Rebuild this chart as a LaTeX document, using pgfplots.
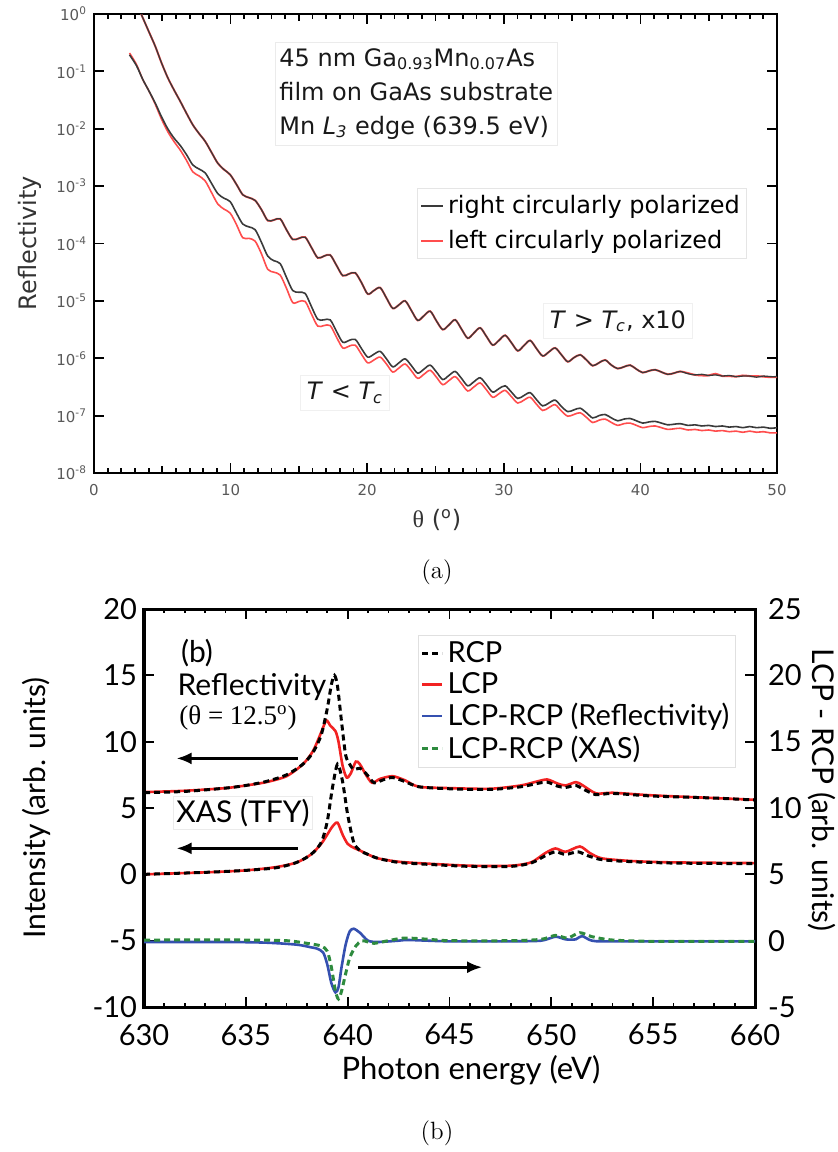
\documentclass[border=0pt]{standalone}
\usepackage{pgfplots}
\pgfplotsset{compat=1.18}
\usepackage{pgfplotstable}
\usepackage{fontspec}
\usetikzlibrary{arrows.meta}
\newfontfamily\dejavu{DejaVu Sans}
\newfontfamily\lato{Lato}
\newfontfamily\tnr{Liberation Serif}
\definecolor{rcpgray}{HTML}{3A3A3A}
\definecolor{lcpred}{HTML}{FF4D4D}
\definecolor{bred}{HTML}{F22222}
\definecolor{bblue}{HTML}{3550B0}
\definecolor{bgreen}{HTML}{2E8B3E}

% ---------- panel (a): log10 of reflectivity ----------
\pgfplotstableread{
th lg
3.45 0.00
4.02 -0.31
4.48 -0.56
4.94 -0.85
5.40 -1.11
5.85 -1.32
6.31 -1.52
6.77 -1.73
7.23 -1.93
7.68 -2.08
8.14 -2.22
8.60 -2.41
9.06 -2.60
9.51 -2.71
9.97 -2.80
10.43 -2.97
10.89 -3.15
11.34 -3.20
11.80 -3.25
12.26 -3.41
12.72 -3.60
13.17 -3.59
13.63 -3.57
14.09 -3.76
14.55 -3.93
15.00 -3.91
15.46 -3.89
15.92 -4.07
16.38 -4.25
16.83 -4.22
17.29 -4.20
17.75 -4.38
18.21 -4.56
18.66 -4.53
19.12 -4.51
19.58 -4.68
20.04 -4.88
20.49 -4.82
20.95 -4.77
21.41 -4.95
21.87 -5.13
22.32 -5.07
22.78 -5.00
23.24 -5.17
23.70 -5.34
24.15 -5.26
24.61 -5.18
25.07 -5.35
25.53 -5.50
25.98 -5.42
26.44 -5.33
26.90 -5.49
27.36 -5.65
27.81 -5.56
28.27 -5.47
28.73 -5.62
29.19 -5.77
29.64 -5.69
30.10 -5.60
30.56 -5.73
31.02 -5.87
31.47 -5.78
31.93 -5.69
32.39 -5.83
32.85 -5.96
33.30 -5.89
33.76 -5.82
34.22 -5.94
34.68 -6.06
35.13 -5.99
35.59 -5.94
36.05 -6.03
36.51 -6.13
36.96 -6.08
37.42 -6.03
37.88 -6.12
38.34 -6.18
38.79 -6.15
39.25 -6.12
39.71 -6.19
40.17 -6.25
40.62 -6.22
41.08 -6.20
41.54 -6.24
42.00 -6.28
42.45 -6.26
42.91 -6.23
43.50 -6.27
44.00 -6.29
44.50 -6.28
45.00 -6.30
45.50 -6.29
46.00 -6.31
46.50 -6.30
47.00 -6.32
47.50 -6.31
48.00 -6.31
48.50 -6.33
49.00 -6.31
49.50 -6.32
50.00 -6.32
}\UpB

\pgfplotstableread{
th lg
3.45 0.00
4.02 -0.31
4.48 -0.56
4.94 -0.85
5.40 -1.11
5.85 -1.32
6.31 -1.52
6.77 -1.73
7.23 -1.93
7.68 -2.08
8.14 -2.22
8.60 -2.41
9.06 -2.60
9.51 -2.71
9.97 -2.80
10.43 -2.97
10.89 -3.15
11.34 -3.20
11.80 -3.25
12.26 -3.41
12.72 -3.60
13.17 -3.59
13.63 -3.57
14.09 -3.76
14.55 -3.93
15.00 -3.91
15.46 -3.89
15.92 -4.07
16.38 -4.25
16.83 -4.22
17.29 -4.20
17.75 -4.38
18.21 -4.56
18.66 -4.53
19.12 -4.51
19.58 -4.68
20.04 -4.88
20.49 -4.82
20.95 -4.77
21.41 -4.95
21.87 -5.13
22.32 -5.07
22.78 -5.00
23.24 -5.17
23.70 -5.34
24.15 -5.26
24.61 -5.18
25.07 -5.35
25.53 -5.50
25.98 -5.42
26.44 -5.33
26.90 -5.49
27.36 -5.65
27.81 -5.56
28.27 -5.47
28.73 -5.62
29.19 -5.77
29.64 -5.69
30.10 -5.60
30.56 -5.73
31.02 -5.87
31.47 -5.78
31.93 -5.69
32.39 -5.83
32.85 -5.96
33.30 -5.89
33.76 -5.82
34.22 -5.94
34.68 -6.06
35.13 -5.99
35.59 -5.94
36.05 -6.03
36.51 -6.13
36.96 -6.08
37.42 -6.03
37.88 -6.12
38.34 -6.18
38.79 -6.15
39.25 -6.12
39.71 -6.19
40.17 -6.25
40.62 -6.22
41.08 -6.20
41.54 -6.24
42.00 -6.28
42.45 -6.26
42.91 -6.23
43.50 -6.26
44.00 -6.29
44.50 -6.30
45.00 -6.30
45.50 -6.27
46.00 -6.31
46.50 -6.31
47.00 -6.32
47.50 -6.30
48.00 -6.31
48.50 -6.31
49.00 -6.32
49.50 -6.33
50.00 -6.33
}\UpR

\pgfplotstableread{
th lg
2.60 -0.71
3.11 -0.90
3.57 -1.14
4.02 -1.34
4.48 -1.55
4.94 -1.79
5.40 -2.00
5.85 -2.16
6.31 -2.29
6.77 -2.45
7.23 -2.63
7.68 -2.70
8.14 -2.77
8.60 -2.95
9.06 -3.13
9.51 -3.21
9.97 -3.27
10.43 -3.47
10.89 -3.66
11.34 -3.71
11.80 -3.76
12.26 -3.98
12.72 -4.22
13.17 -4.30
13.63 -4.35
14.09 -4.59
14.55 -4.82
15.00 -4.85
15.46 -4.87
15.92 -5.10
16.38 -5.32
16.83 -5.33
17.29 -5.33
17.75 -5.53
18.21 -5.72
18.66 -5.69
19.12 -5.67
19.58 -5.83
20.04 -5.98
20.49 -5.93
20.95 -5.88
21.41 -6.01
21.87 -6.15
22.32 -6.08
22.78 -6.01
23.24 -6.13
23.70 -6.26
24.15 -6.19
24.61 -6.12
25.07 -6.24
25.53 -6.37
25.98 -6.30
26.44 -6.23
26.90 -6.35
27.36 -6.48
27.81 -6.41
28.27 -6.34
28.73 -6.46
29.19 -6.59
29.64 -6.53
30.10 -6.48
30.56 -6.59
31.02 -6.70
31.47 -6.65
31.93 -6.60
32.39 -6.72
32.85 -6.83
33.30 -6.78
33.76 -6.73
34.22 -6.84
34.68 -6.93
35.13 -6.90
35.59 -6.87
36.05 -6.95
36.51 -7.04
36.96 -7.00
37.42 -6.98
37.88 -7.04
38.34 -7.09
38.79 -7.06
39.25 -7.05
39.71 -7.09
40.17 -7.13
40.62 -7.11
41.08 -7.10
41.54 -7.13
42.00 -7.16
42.45 -7.15
42.91 -7.14
43.50 -7.17
44.00 -7.16
44.50 -7.18
45.00 -7.17
45.50 -7.19
46.00 -7.18
46.50 -7.20
47.00 -7.19
47.50 -7.21
48.00 -7.19
48.50 -7.21
49.00 -7.20
49.50 -7.22
50.00 -7.21
}\LowB

\pgfplotstableread{
th lg
2.60 -0.68
3.11 -0.88
3.57 -1.14
4.02 -1.34
4.48 -1.57
4.94 -1.83
5.40 -2.05
5.85 -2.22
6.31 -2.37
6.77 -2.55
7.23 -2.75
7.68 -2.82
8.14 -2.91
8.60 -3.11
9.06 -3.31
9.51 -3.40
9.97 -3.47
10.43 -3.67
10.89 -3.90
11.34 -3.91
11.80 -3.96
12.26 -4.18
12.72 -4.45
13.17 -4.50
13.63 -4.55
14.09 -4.78
14.55 -5.03
15.00 -5.01
15.46 -5.01
15.92 -5.23
16.38 -5.44
16.83 -5.43
17.29 -5.43
17.75 -5.63
18.21 -5.82
18.66 -5.79
19.12 -5.77
19.58 -5.93
20.04 -6.08
20.49 -6.03
20.95 -5.98
21.41 -6.10
21.87 -6.24
22.32 -6.17
22.78 -6.10
23.24 -6.22
23.70 -6.35
24.15 -6.28
24.61 -6.21
25.07 -6.33
25.53 -6.46
25.98 -6.39
26.44 -6.32
26.90 -6.44
27.36 -6.57
27.81 -6.50
28.27 -6.43
28.73 -6.55
29.19 -6.68
29.64 -6.62
30.10 -6.56
30.56 -6.67
31.02 -6.78
31.47 -6.73
31.93 -6.68
32.39 -6.80
32.85 -6.91
33.30 -6.86
33.76 -6.81
34.22 -6.92
34.68 -7.01
35.13 -6.98
35.59 -6.95
36.05 -7.03
36.51 -7.12
36.96 -7.08
37.42 -7.06
37.88 -7.12
38.34 -7.17
38.79 -7.14
39.25 -7.13
39.71 -7.17
40.17 -7.21
40.62 -7.19
41.08 -7.18
41.54 -7.21
42.00 -7.24
42.45 -7.23
42.91 -7.22
43.50 -7.25
44.00 -7.24
44.50 -7.26
45.00 -7.25
45.50 -7.27
46.00 -7.26
46.50 -7.28
47.00 -7.27
47.50 -7.29
48.00 -7.27
48.50 -7.29
49.00 -7.28
49.50 -7.30
50.00 -7.30
}\LowR

% ---------- panel (b) ----------
\pgfplotstableread{
e v
630 6.15
632 6.25
634 6.5
635 6.7
636 7.0
637 7.5
637.8 8.3
638.3 9.2
638.7 10.5
639.0 12.5
639.2 14.3
639.35 15.0
639.5 14.2
639.7 11.5
639.9 9.0
640.1 8.3
640.3 7.9
640.6 8.0
640.9 7.6
641.3 6.9
641.7 7.1
642.2 7.3
642.8 7.0
643.5 6.6
645 6.45
647 6.4
648.5 6.6
649.3 6.85
649.8 6.95
650.3 6.65
650.7 6.55
651.2 6.7
651.6 6.4
652.2 6.0
653 6.1
655 5.9
658 5.75
660 5.6
}\ReflRCP

\pgfplotstableread{
e v
630 6.2
632 6.3
634 6.5
635 6.7
636 6.95
637 7.4
637.8 8.3
638.3 9.3
638.7 10.7
638.95 11.6
639.15 11.2
639.4 10.8
639.55 10.0
639.75 8.2
639.95 7.3
640.15 7.6
640.4 8.5
640.6 8.3
640.9 7.5
641.2 6.9
641.6 7.2
642.2 7.4
642.8 7.1
643.5 6.6
645 6.5
647 6.45
648.5 6.7
649.3 7.0
649.8 7.15
650.3 6.85
650.7 6.7
651.2 6.95
651.5 6.75
652.2 6.1
653 6.15
655 5.95
658 5.75
660 5.62
}\ReflLCP

\pgfplotstableread{
e v
630 0.0
633 0.15
635 0.3
636.5 0.5
637.5 0.9
638.2 1.5
638.7 2.4
639.0 4.0
639.25 6.5
639.5 8.3
639.75 7.0
640.0 4.5
640.3 2.4
640.6 1.8
641.0 1.5
641.5 1.2
642.5 0.9
644 0.75
646 0.6
648 0.6
649 0.85
649.7 1.4
650.2 1.7
650.7 1.5
651.3 1.7
651.8 1.4
652.5 1.1
654 0.95
656 0.85
660 0.8
}\XasRCP

\pgfplotstableread{
e v
630 0.0
633 0.15
635 0.3
636.5 0.55
637.5 0.9
638.2 1.5
638.7 2.3
639.0 3.0
639.25 3.6
639.5 3.9
639.75 3.0
640.0 2.3
640.3 2.0
640.6 1.8
641.0 1.5
641.5 1.2
642.5 0.95
644 0.8
646 0.65
648 0.65
649 0.9
649.7 1.6
650.2 1.95
650.7 1.7
651.4 2.1
651.9 1.6
652.5 1.2
654 1.0
656 0.9
660 0.85
}\XasLCP

\pgfplotstableread{
e v
630 -0.1
634 -0.1
636 -0.15
637.5 -0.3
638.2 -0.5
638.5 -0.6
638.8 -0.9
639.0 -1.8
639.2 -3.2
639.4 -3.9
639.55 -3.5
639.7 -2.0
639.9 -0.3
640.1 0.7
640.3 0.9
640.6 0.6
641.0 0.0
641.5 -0.1
642.5 0.0
643 0.05
645 -0.05
648 -0.05
649.5 0.0
650.2 0.3
650.7 0.1
651.2 0.1
651.5 0.35
652 0.0
653 -0.05
660 -0.05
}\DiffRefl

\pgfplotstableread{
e v
630 0.05
635 0.05
637 0.0
638 -0.2
638.7 -0.4
639.0 -0.8
639.2 -2.0
639.4 -3.8
639.55 -4.4
639.7 -3.8
639.9 -2.5
640.1 -1.3
640.4 -0.4
640.7 0.0
641.0 -0.1
641.3 -0.2
642 0.0
642.8 0.2
644 0.1
645 0.0
648 0.0
649.5 0.1
650.2 0.4
650.8 0.2
651.4 0.6
652 0.3
653 0.05
655 -0.05
660 -0.05
}\DiffXas

\begin{document}
\begin{tikzpicture}
\path[use as bounding box] (0,0) rectangle (418.5pt,-576pt);

% ================= panel (a) =================
\begin{axis}[
  at={(47pt,-7pt)}, anchor=north west,
  scale only axis, width=341.5pt, height=229.5pt,
  xmin=0, xmax=50, ymode=log, ymin=1e-8, ymax=1,
  xtick={0,10,...,50}, minor xtick={0,1,...,50},
  extra x ticks={5,15,25,35,45}, extra x tick labels={},
  extra x tick style={major tick length=3.6pt},
  ytick={1e-8,1e-7,1e-6,1e-5,1e-4,1e-3,1e-2,1e-1,1},
  yticklabels={10\textsuperscript{-8},10\textsuperscript{-7},10\textsuperscript{-6},10\textsuperscript{-5},10\textsuperscript{-4},10\textsuperscript{-3},10\textsuperscript{-2},10\textsuperscript{-1},10\textsuperscript{0}},
  minor y tick style={draw=none},
  tick align=inside,
  major tick length=5pt, minor tick length=2.5pt,
  tick style={black, line width=0.9pt},
  axis line style={line width=1.4pt},
  ticklabel style={font=\dejavu\fontsize{7.5}{9}\selectfont, text=black!65},
  /pgf/number format/assume math mode=true,
  xticklabel style={yshift=-2pt},
  legend style={at={(0.473,0.621)}, anchor=north west, draw=black!10,
    font=\dejavu\fontsize{12}{14}\selectfont, inner sep=1.5pt, row sep=3pt},
  legend cell align=left,
  legend image code/.code={\draw[#1] (0pt,0pt) -- (11pt,0pt);},
]
\addplot[lcpred, line width=1.0pt, smooth, forget plot] table[x=th, y expr={10^(\thisrow{lg})}] {\UpR};
\addplot[rcpgray, line width=0.65pt, smooth, forget plot] table[x=th, y expr={10^(\thisrow{lg})}] {\UpB};
\addplot[lcpred, line width=0.8pt, smooth, forget plot] table[x=th, y expr={10^(\thisrow{lg})}] {\LowR};
\addplot[rcpgray, line width=0.8pt, smooth, forget plot] table[x=th, y expr={10^(\thisrow{lg})}] {\LowB};
\addlegendimage{rcpgray, line width=0.8pt}
\addlegendentry{right circularly polarized}
\addlegendimage{lcpred, line width=0.8pt}
\addlegendentry{left circularly polarized}
\end{axis}

% ================= panel (b), left axis =================
\begin{axis}[
  at={(72pt,-304.5pt)}, anchor=north west,
  scale only axis, width=305.5pt, height=199pt,
  xmin=630, xmax=660, ymin=-10, ymax=20,
  xtick={630,635,...,660}, minor x tick num=4,
  ytick={-10,-5,...,20}, ytick pos=left, minor y tick num=0,
  tick align=inside,
  major tick length=5pt, minor tick length=2.2pt,
  tick style={black, line width=0.9pt},
  axis line style={line width=1.5pt},
  ticklabel style={font=\lato\fontsize{14.5}{16}\selectfont},
  /pgf/number format/assume math mode=true,
  xticklabel style={yshift=-5pt},
]
\addplot[bred, line width=1.3pt, smooth, tension=0.45] table[x=e, y=v] {\ReflLCP};
\addplot[black, line width=1.5pt, dash pattern=on 3pt off 2pt, smooth, tension=0.45] table[x=e, y=v] {\ReflRCP};
\addplot[bred, line width=1.3pt, smooth, tension=0.45] table[x=e, y=v] {\XasLCP};
\addplot[black, line width=1.5pt, dash pattern=on 3pt off 2pt, smooth, tension=0.45] table[x=e, y=v] {\XasRCP};
\draw[line width=1.3pt, -{Latex[length=7.5pt,width=6pt]}] (axis cs:637.56,8.74) -- (axis cs:631.6,8.74);
\draw[line width=1.3pt, -{Latex[length=7.5pt,width=6pt]}] (axis cs:637.56,1.96) -- (axis cs:631.6,1.96);
\draw[line width=1.3pt, -{Latex[length=7.5pt,width=6pt]}] (axis cs:640.5,-7.0) -- (axis cs:646.6,-7.0);
\end{axis}

% ================= panel (b), right axis =================
\begin{axis}[
  at={(72pt,-304.5pt)}, anchor=north west,
  scale only axis, width=305.5pt, height=199pt,
  xmin=630, xmax=660, ymin=-5, ymax=25,
  xtick=\empty,
  ytick={-5,0,...,25}, ytick pos=right, yticklabel pos=right, minor y tick num=0,
  tick align=inside,
  major tick length=5pt,
  tick style={black, line width=0.9pt},
  axis line style={line width=1.5pt},
  ticklabel style={font=\lato\fontsize{14.5}{16}\selectfont},
  yticklabel style={xshift=3pt},
  /pgf/number format/assume math mode=true,
  legend style={at={(0.448,0.935)}, anchor=north west, draw=black!12,
    font=\lato\fontsize{14.5}{15}\selectfont, inner sep=1.2pt, row sep=-0.6pt},
  legend cell align=left,
  legend image code/.code={\draw[#1] (0pt,0pt) -- (10pt,0pt);},
]
\addlegendimage{black, line width=1.5pt, dash pattern=on 3pt off 2pt}
\addlegendentry{RCP}
\addlegendimage{bred, line width=1.3pt}
\addlegendentry{LCP}
\addplot[bblue, line width=1.3pt, smooth, tension=0.45] table[x=e, y=v] {\DiffRefl};
\addlegendentry{LCP-RCP (Reflectivity)}
\addplot[bgreen, line width=1.5pt, dash pattern=on 3pt off 2pt, smooth, tension=0.45] table[x=e, y=v] {\DiffXas};
\addlegendentry{LCP-RCP (XAS)}
\end{axis}

% ================= free text =================
\begin{scope}[x=0.5pt, y=-0.5pt]
% panel (a)
\node[rotate=90, font=\dejavu\fontsize{12}{14}\selectfont, text=black!80] at (30,243) {Reflectivity};
\node[font=\dejavu\fontsize{12}{14}\selectfont, text=black!80] at (437,520) {{\tnr θ} (\textsuperscript{o})};
\node[font=\fontsize{12.5}{15}\selectfont] at (437,572) {(a)};
\node[anchor=north west, draw=black!8, align=left, inner xsep=2pt, inner ysep=3pt,
      font=\dejavu\fontsize{12}{17}\selectfont, text=black!90] at (275,42)
  {45 nm Ga\textsubscript{0.93}Mn\textsubscript{0.07}As\\film on GaAs substrate\\Mn \textit{L\textsubscript{3}} edge (639.5 eV)};
\node[draw=black!6, font=\dejavu\fontsize{12}{14}\selectfont, text=black!90] at (618,321)
  {\textit{T} > \textit{T\textsubscript{c}}, x10};
\node[draw=black!6, font=\dejavu\fontsize{12}{14}\selectfont, text=black!90] at (345,393)
  {\textit{T} < \textit{T\textsubscript{c}}};
% panel (b)
\node[font=\lato\fontsize{15}{16}\selectfont] at (197,653) {(b)};
\node[font=\lato\fontsize{15}{16}\selectfont] at (252,687) {Reflectivity};
\node[font=\tnr\fontsize{13.5}{15}\selectfont] at (238,718) {(θ = 12.5\textsuperscript{o})};
\node[fill=white, draw=black!8, inner sep=1.5pt, font=\lato\fontsize{15}{16}\selectfont] at (243,813) {XAS (TFY)};
\node[rotate=90, font=\lato\fontsize{15}{16}\selectfont] at (36,808) {Intensity (arb. units)};
\node[rotate=-90, font=\lato\fontsize{15}{16}\selectfont] at (822,790) {LCP - RCP (arb. units)};
\node[font=\lato\fontsize{15.5}{16}\selectfont] at (471,1070) {Photon energy (eV)};
\node[font=\fontsize{12.5}{15}\selectfont] at (437,1133) {(b)};
\end{scope}
\end{tikzpicture}
\end{document}
